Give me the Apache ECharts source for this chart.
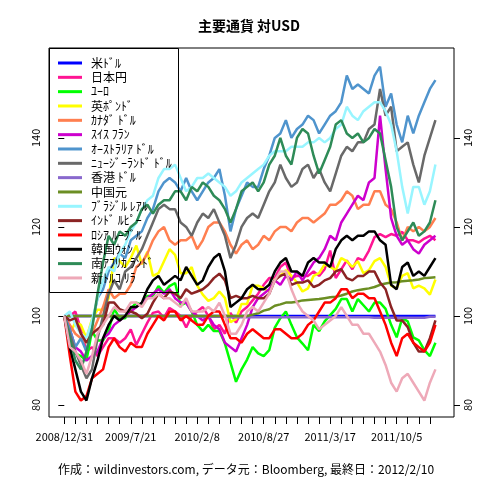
<!DOCTYPE html>
<html><head><meta charset="utf-8">
<script src="https://cdn.jsdelivr.net/npm/echarts@6/dist/echarts.min.js"></script>
<style>html,body{margin:0;padding:0;background:#fff}#c{width:480px;height:480px}</style>
</head><body><div id="c"></div>
<script>
const tickLabels = ['2008/12/31','2009/7/21','2010/2/8','2010/8/27','2011/3/17','2011/10/5'];
const labelIdx = [0,12,24,36,48,60];
const yTicks = [80,100,120,140];
const names = ['米ﾄﾞﾙ','日本円','ﾕｰﾛ','英ﾎﾟﾝﾄﾞ','ｶﾅﾀﾞ ﾄﾞﾙ','ｽｲｽ ﾌﾗﾝ','ｵｰｽﾄﾗﾘｱ ﾄﾞﾙ','ﾆｭｰｼﾞｰﾗﾝﾄﾞ ﾄﾞﾙ','香港 ﾄﾞﾙ','中国元','ﾌﾞﾗｼﾞﾙ ﾚｱﾙ','ｲﾝﾄﾞ ﾙﾋﾟｰ','ﾛｼｱ ﾙｰﾌﾞﾙ','韓国ｳｫﾝ','南ｱﾌﾘｶ ﾗﾝﾄﾞ','新ﾄﾙｺ ﾘﾗ'];
const colors = ['#0000FF','#FF1493','#00FF00','#FFFF00','#FF7F50','#CD00CD','#4F94CD','#696969','#8968CD','#6B8E23','#98F5FF','#8B2323','#FF0000','#000000','#2E8B57','#EEA9B8'];

const usd = [100,100,100,100,100,100,100,100,100,100,
 100,100,100,100,100,100,100,100,100,100,
 100,100,100,100,100,100,100,100,100,100,
 100,100,100,100,100,100,100,100,100,100,
 100,100,100,100,100,100,100,100,100,100,
 100,100,100,100,100,100,100,100,100,100,
 100,100,100,100,100,100,100,100];
const jpy = [100,100,101,97,92,93,91,93,95,95,
 94,95,97,93.5,96,98.5,100.7,101,99.6,101.8,
 101,100,97.4,100,101,102,100,97,98,96,
 100.7,98.5,101,102,103.5,105,107,108.5,108.5,111,
 112,108.5,109,109,109,110,109,110.5,114.7,108.5,
 110.5,112.5,110.5,113,112.5,114.7,117.7,118.4,117.7,118.4,
 118,118.9,117,117,116.5,117.4,118,117];
const eur = [100,94.5,91.6,91,90,96.6,94.5,94.5,96.6,101.6,
 99.5,99.5,101.6,103,102.4,104.5,104.5,106.7,105.2,106.7,
 107.4,102.4,103,101,98,96.6,98,96.6,96.6,93.8,
 89.5,85.2,88,90.2,93,91.6,91,92.3,97.4,99.5,
 101,98,95.2,93.8,92.3,98,96.6,98.8,100.2,101.6,
 103.8,103.8,101,103.8,102.4,101,103,103,101.6,98,
 95.2,99.5,98.8,95.2,94.5,92.3,91,94];
const gbp = [100,96,98.6,98,95,99.3,101.4,101.4,104,113,
 112.3,111,113,115.8,111.6,114.4,109,109.6,112.3,115,
 113.7,109.6,109.6,111,106.8,104.8,103.4,104,105.5,104,
 98.6,99.3,102.7,102.7,106.8,106.8,106.2,105.5,108.2,109,
 110.3,109,107.5,105.5,106.2,109,109.6,111.6,111,110.3,
 113,112.3,111,112.3,109.6,110.3,112.3,113,111,106.8,
 106.2,109,109.6,106.2,106.8,106.2,104.8,108.2];
const cad = [100,98,96,95,94,96,99,102,106,104,
 105,105,107,111,112,114,117,119,120,117,
 116,117,117,118,115,117,120,121,121,119,
 116,114,116,117,115,116,118,117,119,120,
 120,119,121,122,122,121,122,123,125,125,
 126,128,127,124,125,125,128,128,125,124,
 121,117,120,119,120,119,120,122];
const chf = [100,97,93,92,90,91,92,95,96,98,
 99,100,101,102,103,104,105,106,105,106,
 104,103,103,101,100,99,100,98,97,94,
 93,92,95,98,102,104,105,106,108,107,
 109,108,110,108,110,112,113,115,118,117,
 121,123,125,127,126,130,131,145,133,122,
 118,116,117,115,114,116,117,118];
const aud = [100,97,93,95,92,98,104,106,110,112,
 114,113,117,118,119,122,124,128,130,131,
 130,128,131,128,126,128,130,131,133,127,
 119,124,127,130,129,129,133,136,140,141,
 144,140,142,143,145,144,141,143,145,146,
 148,154,151,152,151,150,154,156,147,150,
 143,139,145,141,145,148,151,153];
const nzd = [100,96,92,89,86,88,95,100,105,108,
 106,110,111,113,115,118,121,124,125,124,
 124,121,120,118,121,123,122,124,121,118,
 113,116,120,122,123,122,125,128,130,134,
 131,129,130,133,134,131,133,130,128,132,
 136,138,137,139,139,142,143,151,145,147,
 137,138,139,134,130,136,140,144];
const hkd = [100,100,100,100,100,100,100,100,100,100,
 100,100,100,100,100,100,100,100,100,100,
 100,100,100,100,99.8,99.8,99.8,99.8,99.8,99.8,
 99.7,99.7,99.7,99.7,99.7,99.7,99.7,99.7,99.7,99.7,
 99.7,99.7,99.7,99.7,99.7,99.7,99.7,99.7,99.7,99.7,
 99.7,99.7,99.7,99.7,99.7,99.7,99.6,99.6,99.6,99.6,
 99.6,99.6,99.6,99.6,99.6,99.6,99.8,99.8];
const cny = [100,100,100,100,100,100,100,100,100,100,
 100,100,100,100,100,100,100,100,100,100,
 100,100,100,100,100,100,100,100,100,100,
 100,100,100,100,100.3,100.6,101.2,101.5,102.3,102.6,
 103,103,103.2,103.5,103.6,103.7,103.8,104,104.2,104.3,
 104.6,105,105.5,105.8,106,106.2,106.5,107,107.3,107.5,
 107.6,107.8,107.9,108,108.2,108.5,108.6,108.7];
const brl = [100,101,98,96,95,99,104,108,111,110,
 114,116,119,121,124,126,127,131,133,133,
 134,131,128,129,131,131,132,131,130,129,
 127,128,130,131,132,133,134,136,137,137,
 137,138,138,138,139,139,140,139,140,142,
 143,147,145,144,146,147,148,148,146,143,
 137,129,123,129,129,125,128,134];
const inr = [100,99,99.5,96,94,96,97,98,103,103,
 101.5,101,101,100.5,99.5,100.5,103,105,104,105.5,
 105,104,106,105,105.5,106,107,108.5,109.5,108,
 104,104.5,104,104,104.5,104,104,105,108,109,
 109.5,107,107.5,107.5,108,106.5,107,108,108.5,110,
 110.5,108.5,108,109,109,110,110,107.5,106,102,
 99,99,97.5,94,92,92,95,99];
const rub = [100,91,83,81,82,86,87,88,93,95,
 93,92,94,93,93,96,98,100,99,101,
 101,99,100,99,98,98,100,101,101,98,
 95,95,94,96,97,96,95,95,97,97,
 96,95,95,96,98,99,101,103,103,104,
 106,106,104,105,105,104,104,101,98,94,
 91,95,96,94,93,92,94,98];
const krw = [100,93,88,83,81,86,90,95,98,100,
 99,100,102,102,103,106,108,109,107,108,
 109,108,111,109,107,108,111,113,114,110,
 102,103,104,106,107,106,106,107,110,112,
 113,110,110,109,112,113,112,112,111,115,
 117,118,117,118,118,119,119,117,116,107,
 106,111,112,109,110,109,111,113];
const zar = [100,95,90,88,92,97,105,112,118,116,
 119,118,120,121,124,125,123,125,126,126,
 128,128,126,129,128,130,129,127,126,124,
 121,124,128,129,130,128,130,134,136,140,
 136,134,140,142,141,136,132,135,138,143,
 144,141,140,141,139,140,142,141,135,129,
 120,117,119,121,118,119,121,126];
const tryl = [100,93,92,90,87,91,96,98,100,102,
 101,101,103,103,102,104,104,105,104,104,
 103,102,104,101,101,101,102,101,103,100,
 96,96,98,101,102,101,103,105,108,110,
 110,106,103,101,100,99,97,98,99,100,
 102,100,98,98,96,96,94,92,89,85,
 83,86,87,85,83,81,85,88];

const allSeries = [usd,jpy,eur,gbp,cad,chf,aud,nzd,hkd,cny,brl,inr,rub,krw,zar,tryl];
const FONT = 'Noto Sans CJK JP';
const tickIdx = [];
for (let i = 0; i <= 66; i += 2) tickIdx.push(i);

const chart = echarts.init(document.getElementById('c'), null, {renderer:'canvas'});
chart.setOption({
  animation: false,
  backgroundColor: '#fff',
  title: [
    {text:'主要通貨 対USD', left:249, top:19, padding:0, textAlign:'center',
     textStyle:{fontFamily:FONT, fontSize:14, fontWeight:'bold', color:'#000'}},
    {text:'作成：wildinvestors.com, データ元：Bloomberg, 最終日：2012/2/10', left:246, top:463, padding:0, textAlign:'center',
     textStyle:{fontFamily:FONT, fontSize:12, fontWeight:'normal', color:'#000'}}
  ],
  grid: {left:49, right:26, top:48, bottom:63, show:true, borderColor:'#000', borderWidth:1, backgroundColor:'transparent'},
  legend: {
    orient:'vertical', left:58, top:56, padding:0, itemGap:0.33,
    itemWidth:24, itemHeight:3, icon:'rect',
    data: names,
    textStyle:{fontFamily:FONT, fontSize:12, color:'#000', lineHeight:14, padding:[0,0,0,4]}
  },
  xAxis: {
    type:'value', min:-2.76, max:70.35,
    axisLine:{show:false}, splitLine:{show:false},
    axisTick:{show:true, length:7, lineStyle:{color:'#000'}, customValues: tickIdx},
    axisLabel:{show:true, margin:14, fontFamily:FONT, fontSize:11, color:'#000',
      customValues: labelIdx,
      formatter: v => { const k = labelIdx.indexOf(Math.round(v)); return k >= 0 ? tickLabels[k] : ''; }}
  },
  yAxis: [
    {type:'value', min:77.3, max:160.2, position:'left',
     axisLine:{show:false}, splitLine:{show:false},
     axisTick:{show:true, length:6, lineStyle:{color:'#000'}, customValues: yTicks},
     axisLabel:{show:true, rotate:90, margin:8, fontFamily:FONT, fontSize:11, color:'#000', customValues: yTicks}},
    {type:'value', min:77.3, max:160.2, position:'right',
     axisLine:{show:false}, splitLine:{show:false},
     axisTick:{show:true, length:6, lineStyle:{color:'#000'}, customValues: yTicks},
     axisLabel:{show:true, rotate:90, margin:8, fontFamily:FONT, fontSize:11, color:'#000', customValues: yTicks}}
  ],
  graphic: [{type:'rect', z:50, shape:{x:49.5, y:48.5, width:129, height:244}, style:{fill:null, stroke:'#000', lineWidth:1}}],
  series: allSeries.map((arr, k) => ({
    name: names[k], type:'line', yAxisIndex:0, showSymbol:false, symbol:'none',
    color: colors[k],
    lineStyle:{width:2.5, color: colors[k]},
    data: arr.map((v, i) => [i, v])
  }))
});
</script></body></html>
